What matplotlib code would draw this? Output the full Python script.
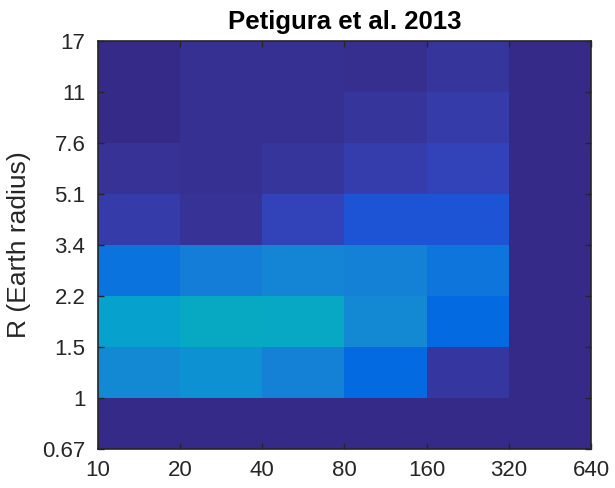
import numpy as np
import matplotlib
matplotlib.use('Agg')
import matplotlib.pyplot as plt
from matplotlib.colors import LinearSegmentedColormap

# period bin edges (days) and radius bin edges (Earth radii)
period_edges = ['10', '20', '40', '80', '160', '320', '640']
radius_edges = ['0.67', '1', '1.5', '2.2', '3.4', '5.1', '7.6', '11', '17']

# occurrence per bin, rows go from smallest radius bin upward
row_067_1 = [0.0, 0.0, 0.0, 0.0, 0.0, 0.0]
row_1_15 = [6.8, 7.4, 6.0, 3.8, 0.8, 0.0]
row_15_22 = [8.8, 9.9, 9.7, 6.8, 3.8, 0.0]
row_22_34 = [4.6, 5.6, 6.4, 6.0, 4.8, 0.0]
row_34_51 = [1.1, 0.55, 1.6, 2.5, 2.5, 0.0]
row_51_76 = [0.5, 0.42, 0.75, 1.2, 1.6, 0.0]
row_76_11 = [0.0, 0.45, 0.45, 0.75, 1.1, 0.0]
row_11_17 = [0.0, 0.45, 0.45, 0.38, 0.75, 0.0]

rate = np.array([row_067_1, row_1_15, row_15_22, row_22_34,
                 row_34_51, row_51_76, row_76_11, row_11_17])

# MATLAB parula (low end in full, then sparser)
parula_pts = [
    (0.2081, 0.1663, 0.5292), (0.2116, 0.1898, 0.5777), (0.2123, 0.2138, 0.6270),
    (0.2081, 0.2386, 0.6771), (0.1959, 0.2645, 0.7279), (0.1707, 0.2919, 0.7792),
    (0.1253, 0.3242, 0.8303), (0.0591, 0.3598, 0.8683), (0.0117, 0.3875, 0.8820),
    (0.0060, 0.4086, 0.8828), (0.0165, 0.4266, 0.8786), (0.0329, 0.4430, 0.8720),
    (0.0498, 0.4586, 0.8641), (0.0629, 0.4737, 0.8554), (0.0723, 0.4887, 0.8467),
    (0.0779, 0.5040, 0.8384), (0.0793, 0.5200, 0.8312), (0.0749, 0.5375, 0.8263),
    (0.0641, 0.5570, 0.8240), (0.0488, 0.5772, 0.8228), (0.0343, 0.5966, 0.8199),
    (0.0265, 0.6137, 0.8135), (0.0239, 0.6287, 0.8038), (0.0231, 0.6418, 0.7913),
    (0.0228, 0.6535, 0.7768), (0.0267, 0.6642, 0.7607), (0.0384, 0.6743, 0.7436),
    (0.0590, 0.6838, 0.7254), (0.0843, 0.6928, 0.7062), (0.1133, 0.7015, 0.6859),
    (0.1453, 0.7098, 0.6646), (0.1801, 0.7177, 0.6424), (0.2178, 0.7250, 0.6193),
]
parula_hi = [(0.3953, 0.7459, 0.5244), (0.5709, 0.7485, 0.4494), (0.7184, 0.7411, 0.3905),
             (0.8507, 0.7299, 0.3360), (0.9739, 0.7314, 0.2666), (0.9880, 0.8066, 0.1794),
             (0.9589, 0.8949, 0.1132), (0.9763, 0.9831, 0.0538)]
pos = [i / 63 for i in range(len(parula_pts))] + [i / 63 for i in (36, 40, 44, 48, 52, 56, 60, 63)]
parula = LinearSegmentedColormap.from_list('parula', list(zip(pos, parula_pts + parula_hi)))

plt.rcParams['font.family'] = ['Liberation Sans', 'DejaVu Sans']
fig = plt.figure(figsize=(6.15, 4.88), dpi=100)
ax = fig.add_axes([0.1593, 0.0799, 0.8016, 0.836])

ax.pcolormesh(np.arange(len(period_edges)), np.arange(len(radius_edges)), rate,
              cmap=parula, vmin=0, vmax=25, shading='flat')

ax.set_xticks(np.arange(len(period_edges)))
ax.set_xticklabels(period_edges)
ax.set_yticks(np.arange(len(radius_edges)))
ax.set_yticklabels(radius_edges)
ax.set_xlim(0, len(period_edges) - 1)
ax.set_ylim(0, len(radius_edges) - 1)

dark = '#262626'
ax.tick_params(direction='in', length=4, width=1, colors=dark, labelsize=16,
               top=True, right=True)
ax.tick_params(axis='x', pad=8)
ax.tick_params(axis='y', pad=9)
for s in ax.spines.values():
    s.set_linewidth(1.2)
    s.set_color(dark)

ax.set_title('Petigura et al. 2013', fontsize=18.5, fontweight='bold', pad=9)
ax.set_ylabel('R (Earth radius)', fontsize=19, color=dark, labelpad=8)

fig.savefig('out.png', dpi=100)
